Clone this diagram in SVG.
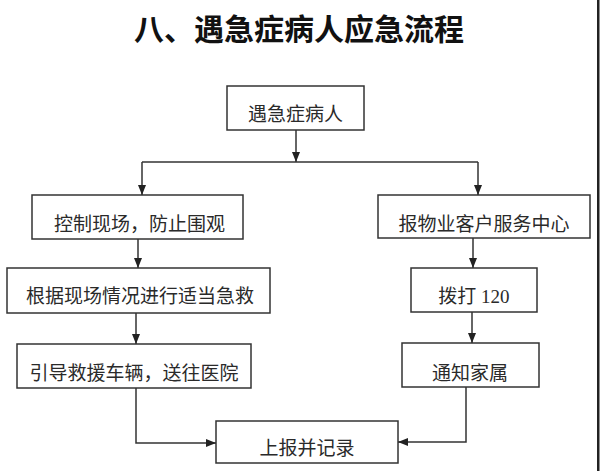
<svg xmlns="http://www.w3.org/2000/svg" width="600" height="471" viewBox="0 0 600 471">
<defs>
<style>
.box{fill:#fff;stroke:#333;stroke-width:1.5}
.t{font-family:"Liberation Serif","Noto Sans CJK SC",serif;font-size:19px;fill:#2a2a2a;text-anchor:middle}
.title{font-family:"Noto Sans CJK SC","Noto Sans",sans-serif;font-size:30px;font-weight:bold;fill:#111;text-anchor:middle}
.c{fill:none;stroke:#333;stroke-width:1.5}
</style>
<marker id="ah" markerUnits="userSpaceOnUse" markerWidth="10" markerHeight="10" viewBox="0 0 10 10" refX="10" refY="5" orient="auto">
<path d="M0,1 L10,5 L0,9 Z" fill="#222"/>
</marker>
</defs>
<rect width="600" height="471" fill="#fff"/>
<rect x="597" y="0" width="2.5" height="471" fill="#222"/>
<text class="title" x="299" y="40">八、遇急症病人应急流程</text>
<g id="n1"><rect class="box" x="227" y="86" width="137" height="44"/><text class="t" x="295.5" y="121">遇急症病人</text></g>
<g id="n2"><rect class="box" x="32" y="195" width="211" height="44"/><text class="t" x="139.5" y="231">控制现场，防止围观</text></g>
<g id="n3"><rect class="box" x="7" y="268" width="263" height="45"/><text class="t" x="140" y="303">根据现场情况进行适当急救</text></g>
<g id="n4"><rect class="box" x="17" y="344" width="234" height="44"/><text class="t" x="134" y="380">引导救援车辆，送往医院</text></g>
<g id="n5"><rect class="box" x="378" y="195" width="212" height="43"/><text class="t" x="484" y="231">报物业客户服务中心</text></g>
<g id="n6"><rect class="box" x="411" y="268" width="126" height="44"/><text class="t" x="474" y="303">拨打 120</text></g>
<g id="n7"><rect class="box" x="402" y="343" width="137" height="44"/><text class="t" x="470" y="380">通知家属</text></g>
<g id="n8"><rect class="box" x="216" y="421" width="182" height="42"/><text class="t" x="307" y="455">上报并记录</text></g>
<g id="connectors">
<path class="c" d="M296,130 V162" marker-end="url(#ah)"/>
<path class="c" d="M142,162 H478"/>
<path class="c" d="M142,162 V195" marker-end="url(#ah)"/>
<path class="c" d="M478,162 V195" marker-end="url(#ah)"/>
<path class="c" d="M138,239 V268" marker-end="url(#ah)"/>
<path class="c" d="M136,313 V344" marker-end="url(#ah)"/>
<path class="c" d="M136,388 V443 H216" marker-end="url(#ah)"/>
<path class="c" d="M473,238 V268" marker-end="url(#ah)"/>
<path class="c" d="M472,312 V343" marker-end="url(#ah)"/>
<path class="c" d="M466,387 V442 H398" marker-end="url(#ah)"/>
</g>
</svg>
